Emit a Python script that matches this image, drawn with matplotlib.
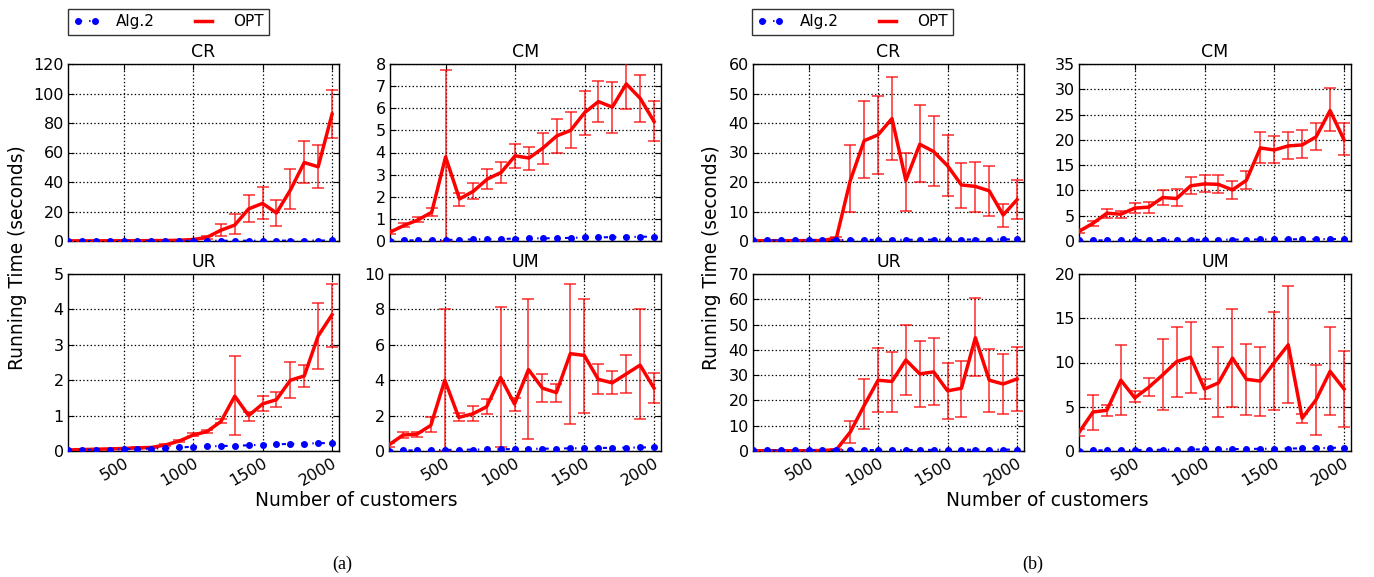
import matplotlib
matplotlib.use("Agg")
import matplotlib.pyplot as plt
from matplotlib.lines import Line2D

plt.rcParams["font.family"] = ["DejaVu Sans"]
plt.rcParams["xtick.direction"] = "in"
plt.rcParams["ytick.direction"] = "in"
plt.rcParams["xtick.top"] = True
plt.rcParams["ytick.right"] = True
plt.rcParams["xtick.major.size"] = 4
plt.rcParams["ytick.major.size"] = 4
# old-style dash-dot pattern
plt.rcParams["lines.scale_dashes"] = False
plt.rcParams["lines.dashdot_pattern"] = [3, 5, 1, 5]

# customers (x values)
customers = [100, 200, 300, 400, 500, 600, 700, 800, 900, 1000,
             1100, 1200, 1300, 1400, 1500, 1600, 1700, 1800, 1900, 2000]

# ---- (a) ----
a_cr_opt = [0.1, 0.1, 0.1, 0.15, 0.15, 0.2, 0.25, 0.3, 0.5, 1.0, 2.5, 7.3, 10.8, 21.8, 25.5, 19.0, 34.5, 53.2, 50.3, 86.0]
a_cr_lo = [0.05, 0.05, 0.05, 0.1, 0.1, 0.1, 0.15, 0.2, 0.3, 0.6, 1.5, 3.2, 5.0, 13.0, 15.0, 10.0, 22.0, 39.0, 36.0, 69.5]
a_cr_hi = [0.15, 0.15, 0.15, 0.2, 0.2, 0.3, 0.35, 0.45, 0.7, 1.5, 3.5, 11.8, 18.0, 31.0, 36.5, 28.0, 48.5, 68.0, 65.0, 102.5]
a_cr_alg = [0.02, 0.03, 0.04, 0.05, 0.06, 0.08, 0.09, 0.1, 0.12, 0.14, 0.16, 0.18, 0.2, 0.22, 0.24, 0.26, 0.28, 0.3, 0.32, 0.35]

a_cm_opt = [0.4, 0.7, 0.95, 1.3, 3.8, 1.9, 2.25, 2.8, 3.1, 3.85, 3.75, 4.2, 4.75, 5.0, 5.8, 6.3, 6.05, 7.1, 6.45, 5.4]
a_cm_lo = [0.3, 0.62, 0.85, 1.15, 0.0, 1.6, 1.9, 2.35, 2.6, 3.3, 3.2, 3.5, 4.0, 4.2, 4.8, 5.4, 4.9, 5.95, 5.4, 4.5]
a_cm_hi = [0.5, 0.8, 1.1, 1.5, 7.75, 2.15, 2.6, 3.25, 3.55, 4.4, 4.25, 4.9, 5.5, 5.85, 6.8, 7.25, 7.2, 8.1, 7.5, 6.35]
a_cm_alg = [0.02, 0.03, 0.03, 0.04, 0.05, 0.06, 0.07, 0.08, 0.09, 0.11, 0.12, 0.12, 0.13, 0.14, 0.16, 0.17, 0.17, 0.18, 0.19, 0.2]

a_ur_opt = [0.03, 0.04, 0.05, 0.06, 0.07, 0.09, 0.1, 0.17, 0.28, 0.45, 0.55, 0.83, 1.55, 1.0, 1.33, 1.45, 2.0, 2.12, 3.25, 3.85]
a_ur_lo = [0.02, 0.03, 0.04, 0.05, 0.06, 0.07, 0.08, 0.14, 0.25, 0.42, 0.52, 0.78, 0.45, 0.85, 1.13, 1.23, 1.5, 1.82, 2.32, 2.95]
a_ur_hi = [0.04, 0.05, 0.06, 0.07, 0.08, 0.11, 0.12, 0.2, 0.32, 0.52, 0.6, 0.9, 2.68, 1.1, 1.55, 1.68, 2.52, 2.42, 4.18, 4.73]
a_ur_alg = [0.02, 0.03, 0.04, 0.04, 0.05, 0.06, 0.07, 0.08, 0.1, 0.12, 0.13, 0.14, 0.15, 0.16, 0.18, 0.19, 0.2, 0.21, 0.22, 0.23]

a_um_opt = [0.35, 0.9, 0.95, 1.45, 4.0, 1.9, 2.1, 2.5, 4.15, 2.65, 4.6, 3.55, 3.3, 5.5, 5.4, 4.05, 3.85, 4.35, 4.85, 3.55]
a_um_lo = [0.25, 0.75, 0.8, 1.1, 0.0, 1.7, 1.7, 2.1, 0.2, 2.25, 0.7, 2.75, 2.75, 1.55, 2.15, 3.2, 3.2, 3.25, 1.8, 2.7]
a_um_hi = [0.45, 1.1, 1.1, 1.9, 8.05, 2.15, 2.55, 2.95, 8.15, 3.0, 8.6, 4.35, 3.8, 9.45, 8.6, 4.9, 4.5, 5.45, 8.0, 4.4]
a_um_alg = [0.02, 0.03, 0.04, 0.05, 0.06, 0.07, 0.08, 0.09, 0.1, 0.11, 0.12, 0.13, 0.14, 0.15, 0.16, 0.17, 0.18, 0.19, 0.2, 0.21]

# ---- (b) ----
b_cr_opt = [0.1, 0.1, 0.1, 0.1, 0.15, 0.15, 1.0, 20.5, 34.0, 36.0, 41.5, 20.5, 32.8, 30.3, 25.5, 19.0, 18.5, 17.0, 8.8, 14.0]
b_cr_lo = [0.05, 0.05, 0.05, 0.05, 0.1, 0.1, 0.5, 10.0, 21.3, 22.8, 27.5, 10.2, 20.0, 18.5, 15.2, 11.2, 9.8, 8.5, 4.8, 7.3]
b_cr_hi = [0.15, 0.15, 0.15, 0.15, 0.2, 0.2, 1.5, 32.5, 47.3, 49.3, 55.5, 30.0, 46.0, 42.5, 36.0, 26.5, 26.8, 25.5, 12.7, 20.8]
b_cr_alg = [0.2, 0.2, 0.25, 0.25, 0.3, 0.3, 0.3, 0.35, 0.35, 0.4, 0.4, 0.4, 0.45, 0.45, 0.45, 0.5, 0.5, 0.5, 0.55, 0.55]

b_cm_opt = [1.9, 3.5, 5.5, 5.3, 6.5, 6.7, 8.6, 8.4, 10.9, 11.3, 11.2, 10.1, 12.0, 18.4, 18.0, 18.8, 19.0, 20.6, 25.8, 20.0]
b_cm_lo = [1.5, 3.0, 4.5, 4.6, 5.6, 5.6, 7.2, 6.9, 9.2, 9.6, 9.5, 8.4, 10.2, 15.4, 15.4, 16.3, 16.4, 17.9, 21.8, 17.1]
b_cm_hi = [2.3, 4.0, 6.4, 6.0, 7.6, 7.8, 10.0, 10.2, 12.7, 13.1, 13.0, 11.8, 13.9, 21.6, 20.8, 21.6, 21.9, 23.3, 30.2, 23.4]
b_cm_alg = [0.1, 0.12, 0.14, 0.15, 0.17, 0.18, 0.2, 0.21, 0.23, 0.25, 0.26, 0.27, 0.29, 0.3, 0.32, 0.33, 0.35, 0.36, 0.38, 0.4]

b_ur_opt = [0.1, 0.1, 0.1, 0.1, 0.1, 0.2, 0.5, 7.5, 18.0, 28.0, 27.5, 36.0, 30.5, 31.3, 23.8, 24.8, 44.8, 28.0, 26.5, 28.5]
b_ur_lo = [0.05, 0.05, 0.05, 0.05, 0.05, 0.1, 0.3, 3.3, 8.8, 15.5, 15.3, 22.2, 17.5, 18.2, 12.5, 13.5, 29.8, 15.5, 14.5, 15.8]
b_ur_hi = [0.15, 0.15, 0.15, 0.15, 0.15, 0.3, 0.7, 12.0, 28.5, 40.8, 39.2, 50.0, 43.5, 44.5, 34.8, 35.6, 60.5, 40.2, 38.5, 41.0]
b_ur_alg = [0.2, 0.2, 0.25, 0.25, 0.3, 0.3, 0.3, 0.35, 0.35, 0.4, 0.4, 0.4, 0.45, 0.45, 0.45, 0.5, 0.5, 0.5, 0.55, 0.55]

b_um_opt = [2.1, 4.4, 4.6, 8.0, 6.0, 7.2, 8.6, 10.1, 10.6, 7.0, 7.7, 10.5, 8.1, 7.9, 10.0, 12.0, 3.7, 5.8, 9.0, 7.0]
b_um_lo = [1.7, 2.4, 4.0, 4.1, 5.5, 6.2, 4.6, 6.1, 6.6, 5.9, 3.8, 5.0, 4.1, 3.9, 4.6, 5.4, 3.2, 1.8, 4.1, 2.7]
b_um_hi = [2.5, 6.3, 5.2, 12.0, 6.8, 8.2, 12.6, 14.0, 14.6, 8.1, 11.7, 16.0, 12.1, 11.8, 15.7, 18.7, 4.2, 9.7, 14.0, 11.3]
b_um_alg = [0.05, 0.07, 0.08, 0.1, 0.11, 0.13, 0.14, 0.16, 0.17, 0.19, 0.2, 0.22, 0.23, 0.25, 0.26, 0.28, 0.3, 0.32, 0.35, 0.38]

panels = [
    # title, opt, lo, hi, alg, ymax, ystep, rect (left, top, right, bottom in px), xlabels
    ("CR", a_cr_opt, a_cr_lo, a_cr_hi, a_cr_alg, 120, 20, (68, 64, 339, 241), False),
    ("CM", a_cm_opt, a_cm_lo, a_cm_hi, a_cm_alg, 8, 1, (390, 64, 661, 241), False),
    ("UR", a_ur_opt, a_ur_lo, a_ur_hi, a_ur_alg, 5, 1, (68, 274, 339, 451), True),
    ("UM", a_um_opt, a_um_lo, a_um_hi, a_um_alg, 10, 2, (389, 274, 661, 451), True),
    ("CR", b_cr_opt, b_cr_lo, b_cr_hi, b_cr_alg, 60, 10, (753, 64, 1024, 241), False),
    ("CM", b_cm_opt, b_cm_lo, b_cm_hi, b_cm_alg, 35, 5, (1079, 64, 1351, 241), False),
    ("UR", b_ur_opt, b_ur_lo, b_ur_hi, b_ur_alg, 70, 10, (753, 274, 1024, 451), True),
    ("UM", b_um_opt, b_um_lo, b_um_hi, b_um_alg, 20, 5, (1079, 274, 1351, 451), True),
]

W, H = 1374, 577
fig = plt.figure(figsize=(W / 100, H / 100), dpi=100)

for title, opt, lo, hi, alg, ymax, ystep, (l, t, r, b), show_x in panels:
    ax = fig.add_axes([l / W, 1 - b / H, (r - l) / W, (b - t) / H])
    yerr = [[o - v for o, v in zip(opt, lo)], [v - o for o, v in zip(opt, hi)]]
    ax.errorbar(customers, opt, yerr=yerr, fmt="none", ecolor=(1, 0, 0, 0.7),
                elinewidth=1.3, capsize=4, capthick=1.3, zorder=3)
    ax.plot(customers, opt, color="red", linewidth=2.5, zorder=4)
    ax.plot(customers, alg, color="blue", linestyle="-.", linewidth=1.5,
            marker="o", markersize=4, markeredgecolor="blue", zorder=5)
    ax.set_xlim(100, 2050)
    ax.set_ylim(0, ymax)
    ax.set_xticks([500, 1000, 1500, 2000])
    ax.set_yticks(list(range(0, ymax + 1, ystep)))
    ax.grid(True, color="black", linestyle=":", linewidth=0.9)
    ax.set_title(title, fontsize=12.5, pad=5)
    ax.tick_params(labelsize=11.5, pad=3)
    if show_x:
        plt.setp(ax.get_xticklabels(), rotation=30, ha="right", rotation_mode="anchor")
    else:
        ax.set_xticklabels([])
    for s in ax.spines.values():
        s.set_linewidth(1.0)

handles = [
    Line2D([], [], color="blue", linestyle="-.", linewidth=1.5, marker="o", markersize=4),
    Line2D([], [], color="red", linewidth=2.5),
]
for lx in [68, 752]:
    leg = fig.legend(handles, ["Alg.2", "OPT"], loc="upper left",
                     bbox_to_anchor=(lx / W, 1 - 9 / H), ncol=2, fontsize=11,
                     numpoints=2, frameon=True, fancybox=False, borderaxespad=0,
                     handlelength=1.7, handletextpad=1.1, columnspacing=2.3,
                     borderpad=0.35)
    leg.get_frame().set_edgecolor("black")
    leg.get_frame().set_linewidth(1.0)

# shared labels
fig.text(18 / W, 1 - 258 / H, "Running Time (seconds)", rotation=90,
         ha="center", va="center", fontsize=13.4)
fig.text(712 / W, 1 - 258 / H, "Running Time (seconds)", rotation=90,
         ha="center", va="center", fontsize=13.4)
fig.text(356 / W, 1 - 501 / H, "Number of customers", ha="center", va="center", fontsize=13.4)
fig.text(1047 / W, 1 - 501 / H, "Number of customers", ha="center", va="center", fontsize=13.4)
fig.text(342 / W, 1 - 564 / H, "(a)", ha="center", va="center", fontsize=13,
         family="Liberation Serif")
fig.text(1033 / W, 1 - 564 / H, "(b)", ha="center", va="center", fontsize=13,
         family="Liberation Serif")

fig.savefig("out.png", dpi=100)
